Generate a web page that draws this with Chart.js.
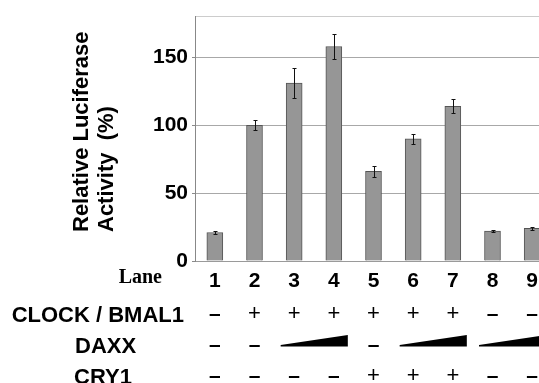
<!DOCTYPE html>
<html>
<head>
<meta charset="utf-8">
<script src="https://cdn.jsdelivr.net/npm/chart.js@4.4.0/dist/chart.umd.min.js"></script>
<style>
  html, body { margin: 0; padding: 0; background: #fff; overflow: hidden; }
  #wrap { width: 539px; height: 383px; overflow: hidden; }
</style>
</head>
<body>
<div id="wrap"><canvas id="myChart" width="556" height="383"></canvas></div>
<script>
const lanes = ["1", "2", "3", "4", "5", "6", "7", "8", "9"];
const activity = [21, 100, 131, 158, 66, 90, 114, 22, 24];
const activityErr = [0.8, 3.5, 11, 9, 4, 3.5, 5, 1, 1];
const yTickValues = [0, 50, 100, 150];
const yMax = 180;
const yTitle = ["Relative Luciferase", "Activity  (%)"];

const rowLabels = ["CLOCK / BMAL1", "DAXX", "CRY1"];
const clockBmal1 = ["–", "+", "+", "+", "+", "+", "+", "–", "–"];
const daxx = ["–", "–", "", "", "–", "", "", "", ""];
const daxxRamps = [[2, 3], [5, 6], [7, 8]]; // lane indexes, increasing amount
const cry1 = ["–", "–", "–", "–", "+", "+", "+", "–", "–"];

const sansFont = "'Liberation Sans', Arial, sans-serif";

const errorBarPlugin = {
  id: "errorBars",
  afterDatasetsDraw(chart) {
    const ctx = chart.ctx;
    const y = chart.scales.y;
    const meta = chart.getDatasetMeta(0);
    ctx.save();
    ctx.strokeStyle = "#111";
    ctx.lineWidth = 1;
    meta.data.forEach((bar, i) => {
      const top = Math.round(y.getPixelForValue(activity[i] + activityErr[i])) + 0.5;
      const bottom = Math.round(y.getPixelForValue(activity[i] - activityErr[i])) + 0.5;
      const x = Math.round(bar.x) + 0.5;
      ctx.beginPath();
      ctx.moveTo(x, top);
      ctx.lineTo(x, bottom);
      ctx.moveTo(x - 2, top);
      ctx.lineTo(x + 2, top);
      ctx.moveTo(x - 2, bottom);
      ctx.lineTo(x + 2, bottom);
      ctx.stroke();
    });
    ctx.restore();
  }
};

// y title, "Lane" and the treatment table under the lanes
const laneTablePlugin = {
  id: "laneTable",
  afterDraw(chart) {
    const ctx = chart.ctx;
    const xs = chart.scales.x;
    ctx.save();
    ctx.fillStyle = "#000";

    ctx.save();
    ctx.translate(88, 232);
    ctx.rotate(-Math.PI / 2);
    ctx.font = "bold 22px " + sansFont;
    ctx.textAlign = "left";
    ctx.textBaseline = "alphabetic";
    ctx.fillText(yTitle[0], 0, 0);
    ctx.fillText(yTitle[1], 0, 25);
    ctx.restore();

    ctx.font = "bold 20px 'Liberation Serif', 'Times New Roman', serif";
    ctx.textAlign = "right";
    ctx.textBaseline = "alphabetic";
    ctx.fillText("Lane", 162, 283);

    ctx.font = "bold 22px " + sansFont;
    ctx.fillText(rowLabels[0], 184, 322);
    ctx.textAlign = "left";
    ctx.fillText(rowLabels[1], 75, 353);
    ctx.fillText(rowLabels[2], 74, 384);

    const rows = [[clockBmal1, 314], [daxx, 345], [cry1, 376]];
    ctx.textAlign = "center";
    ctx.textBaseline = "middle";
    rows.forEach(([signs, yPos]) => {
      signs.forEach((s, i) => {
        if (!s) return;
        ctx.font = (s === "+" ? "22px " : "bold 21px ") + sansFont;
        ctx.fillText(s, xs.getPixelForValue(i), yPos);
      });
    });

    daxxRamps.forEach(([a, b]) => {
      const x0 = xs.getPixelForValue(a) - 13.5;
      const x1 = xs.getPixelForValue(b) + 14;
      ctx.beginPath();
      ctx.moveTo(x0, 346.5);
      ctx.lineTo(x1, 346.5);
      ctx.lineTo(x1, 335);
      ctx.lineTo(x0, 345);
      ctx.closePath();
      ctx.fill();
    });
    ctx.restore();
  }
};

const ctx = document.getElementById("myChart").getContext("2d");

new Chart(ctx, {
  type: "bar",
  data: {
    labels: lanes,
    datasets: [
      {
        data: activity,
        backgroundColor: "#969696",
        borderColor: "#555555",
        borderWidth: 1,
        barThickness: 16,
      },
    ],
  },
  options: {
    responsive: false,
    animation: false,
    layout: { padding: { top: 15, right: 4, left: 0, bottom: 0 } },
    plugins: {
      legend: { display: false },
      tooltip: { enabled: false },
    },
    scales: {
      x: {
        grid: { display: false, drawTicks: false },
        border: { color: "#9a9a9a", width: 1 },
        ticks: {
          color: "#000",
          font: { family: sansFont, size: 21, weight: "bold" },
          padding: 8,
          maxRotation: 0,
          autoSkip: false,
        },
        afterFit(scale) {
          scale.height = 122;
        },
      },
      y: {
        min: 0,
        max: yMax,
        afterBuildTicks(scale) {
          scale.ticks = [...yTickValues, yMax].map((value) => ({ value }));
        },
        grid: {
          color: (c) => (c.tick && c.tick.value === yMax ? "#cccccc" : "#a8a8a8"),
          tickColor: (c) => (c.tick && c.tick.value === yMax ? "rgba(0,0,0,0)" : "#8a8a8a"),
          tickLength: 3,
          lineWidth: 1,
        },
        border: { color: "#888888", width: 1 },
        ticks: {
          color: "#000",
          font: { family: sansFont, size: 21, weight: "bold" },
          padding: 4,
          callback: (v) => (v === yMax ? "" : v),
        },
        afterFit(scale) {
          scale.width = 195;
        },
      },
    },
  },
  plugins: [errorBarPlugin, laneTablePlugin],
});
</script>
</body>
</html>
